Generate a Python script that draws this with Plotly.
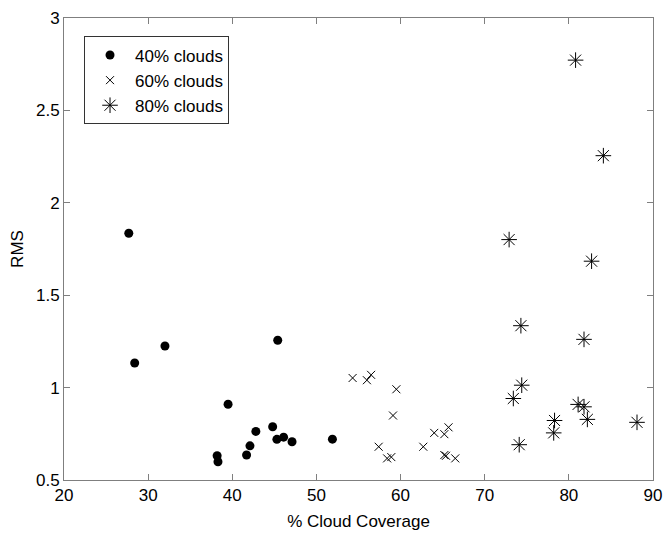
import plotly.graph_objects as go

# 40% clouds
x40 = [27.7, 28.4, 32.0, 45.4, 39.5, 44.8, 42.8, 45.3, 46.1, 47.1, 51.9, 42.1, 41.7, 38.2, 38.3]
y40 = [1.835, 1.133, 1.225, 1.256, 0.91, 0.788, 0.763, 0.72, 0.732, 0.707, 0.721, 0.685, 0.635, 0.631, 0.599]

# 60% clouds
x60 = [54.3, 56.0, 56.5, 59.5, 59.1, 57.4, 58.4, 58.9, 62.7, 64.0, 65.2, 65.7, 65.2, 65.4, 66.5]
y60 = [1.052, 1.04, 1.069, 0.991, 0.849, 0.68, 0.617, 0.624, 0.68, 0.755, 0.748, 0.785, 0.635, 0.631, 0.617]

# 80% clouds
x80 = [80.8, 84.1, 72.9, 82.7, 74.3, 81.8, 74.4, 73.4, 81.1, 81.8, 82.2, 78.3, 78.2, 88.1, 74.1]
y80 = [2.772, 2.255, 1.801, 1.684, 1.335, 1.261, 1.013, 0.941, 0.909, 0.896, 0.828, 0.822, 0.755, 0.812, 0.691]

names = ["40% clouds", "60% clouds", "80% clouds"]
x_ticks = [20, 30, 40, 50, 60, 70, 80, 90]
y_ticks = [0.5, 1, 1.5, 2, 2.5, 3]
y_tick_text = ["0.5", "1", "1.5", "2", "2.5", "3"]

FONT = "Liberation Sans, Arial, Helvetica, sans-serif"
AXC = "#7f7f7f"

fig = go.Figure()
fig.add_trace(go.Scatter(x=x40, y=y40, mode="markers", name=names[0],
                         marker=dict(symbol="circle", size=9, color="black",
                                     line=dict(width=0))))
fig.add_trace(go.Scatter(x=x60, y=y60, mode="markers", name=names[1],
                         marker=dict(symbol="x-thin", size=8, color="black",
                                     line=dict(width=1, color="black"))))
fig.add_trace(go.Scatter(x=x80, y=y80, mode="markers", name=names[2],
                         marker=dict(symbol="asterisk", size=13, color="black",
                                     line=dict(width=1, color="black"))))

axis_common = dict(showgrid=False, zeroline=False, showline=True, linecolor=AXC,
                   linewidth=1, mirror="ticks", ticks="inside", ticklen=6,
                   tickcolor=AXC, tickwidth=1,
                   tickfont=dict(family=FONT, size=17, color="black"))

fig.update_xaxes(range=[20, 90], tickvals=x_ticks,
                 title=dict(text="% Cloud Coverage", standoff=10,
                            font=dict(family=FONT, size=17, color="black")),
                 **axis_common)
fig.update_yaxes(range=[0.5, 3], tickvals=y_ticks, ticktext=y_tick_text,
                 title=dict(text="RMS", standoff=8,
                            font=dict(family=FONT, size=17, color="black")),
                 **axis_common)

fig.update_layout(
    width=665, height=533,
    margin=dict(l=64, r=12, t=18, b=53, autoexpand=False),
    plot_bgcolor="white", paper_bgcolor="white",
    font=dict(family=FONT, size=17, color="black"),
    legend=dict(x=0.034, y=0.96, xanchor="left", yanchor="top",
                bgcolor="white", bordercolor="#333333", borderwidth=1,
                font=dict(family=FONT, size=17, color="black"),
                itemwidth=40, tracegroupgap=0),
    showlegend=True,
)

fig.write_html(
    "out.html",
    config={"displayModeBar": False},
    post_script="document.body.style.margin='0';document.body.style.overflow='hidden';",
)
